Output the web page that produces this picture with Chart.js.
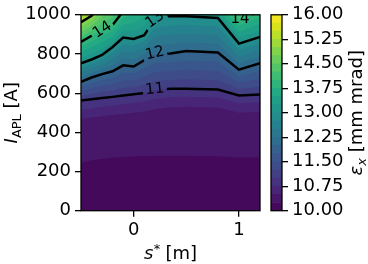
<!DOCTYPE html>
<html><head><meta charset="utf-8">
<script src="https://cdn.jsdelivr.net/npm/chart.js@4/dist/chart.umd.min.js"></script>
<style>
html,body{margin:0;padding:0;background:#fff;}
#wrap{position:relative;width:368px;height:264px;overflow:hidden;}
canvas{position:absolute;left:0;top:0;}
</style></head><body>
<div id="wrap"><canvas id="main" width="368" height="264"></canvas><canvas id="cbar" width="368" height="264"></canvas></div>
<script>
// ---------------- data ----------------
const sPos = [-0.5,-0.4,-0.3,-0.2,-0.1,0,0.1,0.2,0.35,0.5,0.8,1.0,1.2];      // s* [m] columns
const levels = [10,10.25,10.5,10.75,11,11.25,11.5,11.75,12,12.25,12.5,12.75,13,13.25,13.5,13.75,14,14.25,14.5,14.75,15,15.25,15.5,15.75,16];
const xTicks = [0,1];
const yTicks = [0,200,400,600,800,1000];
const cbTicks = [10,10.75,11.5,12.25,13,13.75,14.5,15.25,16];
// current I_APL [A] where eps_x reaches each level, per s* column
const b10_25=[245,258,265,270,274,277,279,280,281,281,278,272,272];
const b10_50=[468,475,482,488,494,500,507,518,528,530,526,500,505];
const b10_75=[515,522,530,537,544,550,557,570,580,582,578,548,553];
const c11   =[563,569,575,581,588,594,601,616,622,623,619,588,593];
const b11_25=[587,597,606,614,627,630,643,662,667,671,666,621,633];
const b11_50=[611,625,636,647,665,665,685,708,713,719,714,654,673];
const b11_75=[634,652,667,679,704,701,726,754,758,767,761,687,713];
const c12   =[658,680,697,712,742,736,768,800,803,815,808,720,753];
const b12_25=[682,703,722,743,778,771,800,844,851,859,852,753,787];
const b12_50=[705,726,746,774,813,807,832,888,899,904,896,787,820];
const b12_75=[729,749,771,805,849,842,864,931,946,948,940,820,854];
const c13   =[752,772,795,836,884,877,896,975,994,992,984,853,887];
const b13_25=[780,802,827,864,918,918,942,1009,1033,1034,1003,884,920];
const b13_50=[807,833,859,892,951,959,988,1043,1072,1076,1022,914,954];
const b13_75=[835,863,890,920,985,999,1034,1076,1111,1118,1041,945,987];
const c14   =[862,893,922,948,1018,1040,1080,1110,1150,1160,1060,975,1020];
const b14_25=[887,919,957,989,1056,1078,1115,1145,1188,1195,1095,1006,1048];
const b14_50=[912,944,991,1029,1094,1115,1150,1180,1225,1230,1130,1038,1075];
const b14_75=[937,970,1026,1070,1132,1153,1185,1215,1263,1265,1165,1069,1103];
const c15   =[962,995,1060,1110,1170,1190,1220,1250,1300,1300,1200,1100,1130];
const b15_25=[987,1020,1095,1150,1200,1230,1260,1290,1340,1340,1240,1130,1160];
// contour labels (data coordinates)
const labelText=['14','13','12','11','14'];
const labelS=[-0.3,0.2,0.2,0.2,1.01];
const labelI=[925,978,805,622,980];
const labelRot=[-33,-35,-13,-6,0];

// ---------------- style helpers ----------------
const VIR=['#440154','#471365','#482475','#463480','#414487','#3b528b','#355f8d','#2f6c8e','#2a788e','#25848e','#21918c','#1e9c89','#22a884','#2fb47c','#44bf70','#5ec962','#7ad151','#9bd93c','#bddf26','#dfe318','#fde725'];
function hx(h){return [parseInt(h.slice(1,3),16),parseInt(h.slice(3,5),16),parseInt(h.slice(5,7),16)];}
function viridis(t){const p=Math.max(0,Math.min(1,t))*20;const i=Math.min(19,Math.floor(p));const f=p-i;const a=hx(VIR[i]),b=hx(VIR[i+1]);
  return 'rgb('+a.map((v,j)=>Math.round(v+(b[j]-v)*f)).join(',')+')';}
const nBands=levels.length-1;
function bandColor(k){return viridis((k+0.5)/nBands);}
const FONT='DejaVu Sans';
const FS=18;
const LFS=15;

const boundaryArrays=[b10_25,b10_50,b10_75,c11,b11_25,b11_50,b11_75,c12,b12_25,b12_50,b12_75,c13,b13_25,b13_50,b13_75,c14,b14_25,b14_50,b14_75,c15,b15_25];
const contourArrays=[c11,c12,c13,c14,c15];
const pts=arr=>sPos.map((s,i)=>({x:s,y:arr[i]}));

const datasets=[];
boundaryArrays.forEach((arr,k)=>{
  datasets.push({data:pts(arr),fill:'end',backgroundColor:bandColor(k+1),borderWidth:0,borderColor:'rgba(0,0,0,0)',
    pointRadius:0,tension:0,order:100-k});
});
contourArrays.forEach(arr=>{
  datasets.push({data:pts(arr),fill:false,borderColor:'#000',borderWidth:2.5,pointRadius:0,tension:0,order:0,clip:0,isContour:true});
});

function labelBoxes(chart){
  const xs=chart.scales.x, ys=chart.scales.y, ctx=chart.ctx;
  ctx.save();ctx.font=LFS+'px "'+FONT+'"';
  const out=labelText.map((t,i)=>{
    const w=ctx.measureText(t).width+5;
    return {t,x:xs.getPixelForValue(labelS[i]),y:ys.getPixelForValue(labelI[i]),a:labelRot[i]*Math.PI/180,w,h:LFS};
  });
  ctx.restore();return out;
}

const plotPlugin={
  id:'plotExtras',
  beforeDatasetsDraw(chart){
    const a=chart.chartArea,ctx=chart.ctx;
    ctx.save();ctx.fillStyle=bandColor(0);ctx.fillRect(a.left,a.top,a.right-a.left,a.bottom-a.top);ctx.restore();
  },
  beforeDatasetDraw(chart,args){
    const ds=chart.data.datasets[args.index];
    if(!ds.isContour) return;
    const ctx=chart.ctx,a=chart.chartArea;
    ctx.save();
    ctx.beginPath();
    ctx.rect(a.left-5,a.top-5,a.right-a.left+10,a.bottom-a.top+10);
    labelBoxes(chart).forEach(b=>{
      const c=Math.cos(b.a),s=Math.sin(b.a);
      const corners=[[-b.w/2,-b.h/2],[b.w/2,-b.h/2],[b.w/2,b.h/2],[-b.w/2,b.h/2]].map(([u,v])=>[b.x+u*c-v*s,b.y+u*s+v*c]);
      ctx.moveTo(corners[0][0],corners[0][1]);
      for(let i=1;i<4;i++)ctx.lineTo(corners[i][0],corners[i][1]);
      ctx.closePath();
    });
    ctx.clip('evenodd');
  },
  afterDatasetDraw(chart,args){
    const ds=chart.data.datasets[args.index];
    if(ds.isContour) chart.ctx.restore();
  },
  afterDatasetsDraw(chart){
    const ctx=chart.ctx,a=chart.chartArea;
    ctx.save();
    ctx.beginPath();ctx.rect(a.left,a.top,a.right-a.left,a.bottom-a.top);ctx.clip();
    labelBoxes(chart).forEach(b=>{
      ctx.save();ctx.translate(b.x,b.y);ctx.rotate(b.a);
      ctx.font=LFS+'px "'+FONT+'"';ctx.fillStyle='#000';ctx.textAlign='center';ctx.textBaseline='middle';
      ctx.fillText(b.t,0,0.5);ctx.restore();
    });
    ctx.restore();
    ctx.save();ctx.strokeStyle='#000';ctx.lineWidth=1.3;
    ctx.strokeRect(a.left,a.top,a.right-a.left,a.bottom-a.top);ctx.restore();
  },
  afterDraw(chart){
    const ctx=chart.ctx,a=chart.chartArea;
    // y title: I_APL [A]
    ctx.save();
    const yc=(a.top+a.bottom)/2;
    ctx.translate(17,yc);ctx.rotate(-Math.PI/2);
    ctx.fillStyle='#000';ctx.textBaseline='alphabetic';
    const fI='oblique '+FS+'px "'+FONT+'"', fSub=Math.round(FS*0.7)+'px "'+FONT+'"', fN=FS+'px "'+FONT+'"';
    ctx.font=fI;const w1=ctx.measureText('I').width;
    ctx.font=fSub;const w2=ctx.measureText('APL').width;
    ctx.font=fN;const w3=ctx.measureText(' [A]').width;
    let x0=-(w1+w2+w3)/2;
    ctx.font=fI;ctx.fillText('I',x0,0);x0+=w1;
    ctx.font=fSub;ctx.fillText('APL',x0,3.5);x0+=w2;
    ctx.font=fN;ctx.fillText(' [A]',x0,0);
    ctx.restore();
    // x title: s* [m]
    ctx.save();
    ctx.fillStyle='#000';ctx.textBaseline='alphabetic';
    const xc=(a.left+a.right)/2, yb=259;
    const fS='oblique '+FS+'px "'+FONT+'"', fSup=Math.round(FS*0.7)+'px "'+FONT+'"';
    ctx.font=fS;const v1=ctx.measureText('s').width;
    ctx.font=fSup;const v2=ctx.measureText('*').width;
    ctx.font=fN;const v3=ctx.measureText(' [m]').width;
    let x1=xc-(v1+v2+v3)/2;
    ctx.font=fS;ctx.fillText('s',x1,yb);x1+=v1;
    ctx.font=fSup;ctx.fillText('*',x1+0.5,yb-6);x1+=v2;
    ctx.font=fN;ctx.fillText(' [m]',x1,yb);
    ctx.restore();
  }
};

const tickFont={family:FONT,size:FS};
new Chart(document.getElementById('main'),{
  type:'line',
  data:{datasets},
  options:{
    responsive:false,animation:false,devicePixelRatio:1,
    layout:{padding:{left:0,right:108,top:12,bottom:0}},
    plugins:{legend:{display:false},tooltip:{enabled:false}},
    scales:{
      x:{type:'linear',min:-0.5,max:1.2,
        afterBuildTicks:s=>{s.ticks=xTicks.map(v=>({value:v}));},
        afterFit:s=>{s.height=53.3;},
        ticks:{font:tickFont,color:'#000',padding:3,maxRotation:0,callback:v=>String(v)},
        grid:{display:true,drawOnChartArea:false,drawTicks:true,tickLength:6,color:'#000',lineWidth:1.3},
        border:{display:false}},
      y:{type:'linear',min:0,max:1000,
        afterBuildTicks:s=>{s.ticks=yTicks.map(v=>({value:v}));},
        afterFit:s=>{s.width=81;},
        ticks:{font:tickFont,color:'#000',padding:4,callback:v=>String(v)},
        grid:{display:true,drawOnChartArea:false,drawTicks:true,tickLength:6,color:'#000',lineWidth:1.3},
        border:{display:false}}
    }
  },
  plugins:[plotPlugin]
});

// ---------------- colorbar ----------------
const cbPlugin={
  id:'cbExtras',
  afterDatasetsDraw(chart){
    const ctx=chart.ctx,a=chart.chartArea;
    ctx.save();ctx.strokeStyle='#000';ctx.lineWidth=1.3;
    ctx.strokeRect(a.left,a.top,a.right-a.left,a.bottom-a.top);ctx.restore();
  },
  afterDraw(chart){
    const ctx=chart.ctx,a=chart.chartArea;
    ctx.save();
    ctx.translate(362,(a.top+a.bottom)/2);ctx.rotate(-Math.PI/2);
    ctx.fillStyle='#000';ctx.textBaseline='alphabetic';
    const fE='oblique '+FS+'px "'+FONT+'"', fX='oblique '+Math.round(FS*0.7)+'px "'+FONT+'"', fN=FS+'px "'+FONT+'"';
    ctx.font=fE;const w1=ctx.measureText('ε').width;
    ctx.font=fX;const w2=ctx.measureText('x').width;
    ctx.font=fN;const w3=ctx.measureText(' [mm mrad]').width;
    let x0=-(w1+w2+w3)/2;
    ctx.font=fE;ctx.fillText('ε',x0,0);x0+=w1;
    ctx.font=fX;ctx.fillText('x',x0,3.5);x0+=w2;
    ctx.font=fN;ctx.fillText(' [mm mrad]',x0,0);
    ctx.restore();
  }
};
new Chart(document.getElementById('cbar'),{
  type:'bar',
  data:{labels:['cb'],datasets:levels.slice(0,-1).map((lo,k)=>({data:[[lo,levels[k+1]]],backgroundColor:bandColor(k),
    borderWidth:0,barPercentage:1,categoryPercentage:1}))},
  options:{
    responsive:false,animation:false,devicePixelRatio:1,
    layout:{padding:{left:271,right:0,top:11,bottom:53.3}},
    plugins:{legend:{display:false},tooltip:{enabled:false}},
    scales:{
      x:{display:false,stacked:true},
      y:{position:'right',min:10,max:16,stacked:false,
        afterBuildTicks:s=>{s.ticks=cbTicks.map(v=>({value:v}));},
        afterFit:s=>{s.width=86;},
        ticks:{font:tickFont,color:'#000',padding:4,callback:v=>Number(v).toFixed(2)},
        grid:{display:true,drawOnChartArea:false,drawTicks:true,tickLength:6,color:'#000',lineWidth:1.3},
        border:{display:false}}
    }
  },
  plugins:[cbPlugin]
});
</script>
</body></html>
